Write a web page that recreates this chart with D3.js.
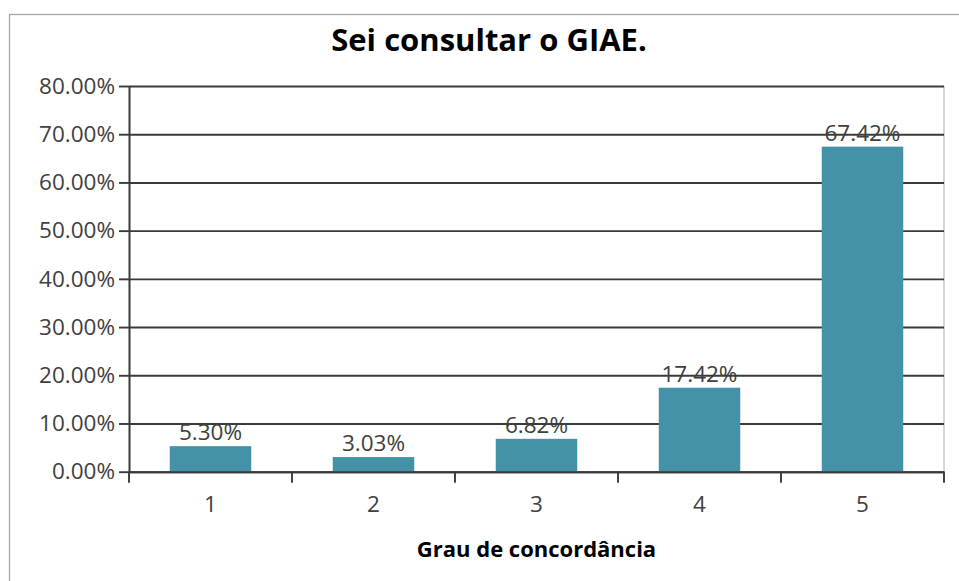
<!DOCTYPE html>
<html>
<head>
<meta charset="utf-8">
<script src="https://cdn.jsdelivr.net/npm/d3@7"></script>
<style>
  body { margin: 0; background: #fff; }
  svg { display: block; }
</style>
</head>
<body>
<svg id="chart"></svg>
<script>
// data
var categories = ['1', '2', '3', '4', '5'];
var values = [0.0530, 0.0303, 0.0682, 0.1742, 0.6742];
var yTicks = [0, 0.1, 0.2, 0.3, 0.4, 0.5, 0.6, 0.7, 0.8];
var title = 'Sei consultar o GIAE.';
var xTitle = 'Grau de concordância';

var width = 959, height = 581;
var plot = { left: 129, right: 944, top: 86, bottom: 471.7 };
var font = '"Open Sans", "Noto Sans", sans-serif';

var svg = d3.select('#chart').attr('width', width).attr('height', height);

// ****************************************
// Frame

svg.append('rect')
  .attr('x', 9.5).attr('y', 14.5).attr('width', 960).attr('height', 580)
  .style('fill', 'white').style('stroke', '#a6a6a6').style('stroke-width', 1.3);

var x = d3.scaleBand().domain(categories).range([plot.left, plot.right]).paddingInner(0.5).paddingOuter(0.25);
var y = d3.scaleLinear().domain([0, 0.8]).range([plot.bottom, plot.top]);

// right border of plot area
svg.append('line')
  .attr('x1', plot.right).attr('x2', plot.right).attr('y1', plot.top).attr('y2', plot.bottom)
  .style('stroke', '#c8c8c8').style('stroke-width', 1.5);

// ****************************************
// Gridlines and y axis

var grid = svg.append('g').attr('transform', 'translate(' + plot.left + ',0)')
  .call(d3.axisLeft(y).tickValues(yTicks).tickSize(-(plot.right - plot.left)).tickFormat(''));
grid.select('.domain').remove();
grid.selectAll('line').style('stroke', '#3a3a3a').style('stroke-width', 1.9);

var yAxis = svg.append('g').attr('transform', 'translate(' + plot.left + ',0)')
  .call(d3.axisLeft(y).tickValues(yTicks).tickSize(10).tickSizeOuter(0).tickPadding(4).tickFormat(d3.format('.2%')));
yAxis.select('.domain').style('stroke', '#3a3a3a').style('stroke-width', 2);
yAxis.selectAll('line').style('stroke', '#3a3a3a').style('stroke-width', 1.9);
yAxis.selectAll('text').style('font-family', font).style('font-size', '22.5px').style('fill', '#404040');

// ****************************************
// Bars and value labels

svg.append('g').selectAll('rect')
  .data(values)
  .join('rect')
  .attr('x', function(d, i) { return x(categories[i]); })
  .attr('width', x.bandwidth())
  .attr('y', function(d) { return y(d); })
  .attr('height', function(d) { return y(0) - y(d); })
  .style('fill', '#4392a8');

svg.append('g').selectAll('text')
  .data(values)
  .join('text')
  .attr('x', function(d, i) { return x(categories[i]) + x.bandwidth() / 2; })
  .attr('y', function(d) { return y(d) - 6; })
  .attr('text-anchor', 'middle')
  .style('font-family', font).style('font-size', '22.5px').style('fill', '#404040')
  .text(function(d) { return d3.format('.2%')(d); });

// ****************************************
// x axis: labels at band centres, ticks at band boundaries

var xAxis = svg.append('g').attr('transform', 'translate(0,' + plot.bottom + ')')
  .call(d3.axisBottom(x).tickSize(0).tickPadding(24));
xAxis.select('.domain').style('stroke', '#3a3a3a').style('stroke-width', 2);
xAxis.selectAll('text').style('font-family', font).style('font-size', '22.5px').style('fill', '#404040');

var half = (x.step() - x.bandwidth()) / 2;
var bounds = categories.map(function(c) { return x(c) - half; }).concat([x(categories[categories.length - 1]) + x.bandwidth() + half]);
xAxis.selectAll('line.bound')
  .data(bounds)
  .join('line')
  .attr('class', 'bound')
  .attr('x1', function(d) { return d; }).attr('x2', function(d) { return d; })
  .attr('y1', 0).attr('y2', 11)
  .style('stroke', '#3a3a3a').style('stroke-width', 1.9);

// ****************************************
// Titles

svg.append('text')
  .attr('x', 489).attr('y', 51)
  .attr('text-anchor', 'middle')
  .style('font-family', font).style('font-weight', 'bold').style('font-size', '31px').style('fill', '#000')
  .text(title);

svg.append('text')
  .attr('x', (plot.left + plot.right) / 2).attr('y', 557)
  .attr('text-anchor', 'middle')
  .style('font-family', font).style('font-weight', 'bold').style('font-size', '22px').style('fill', '#000')
  .text(xTitle);
</script>
</body>
</html>
